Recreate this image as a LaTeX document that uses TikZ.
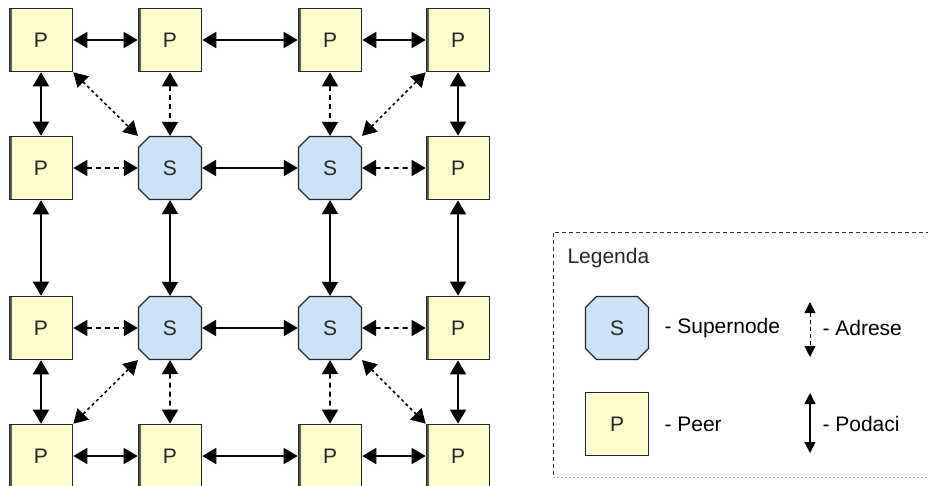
\documentclass[tikz,border=0pt]{standalone}
\usepackage{fontspec}
\setmainfont{Liberation Sans}
\usepackage{tikz}
\usetikzlibrary{arrows.meta,shapes.misc}
\definecolor{peerfill}{RGB}{252,252,204}
\definecolor{superfill}{RGB}{204,226,248}
\definecolor{txt}{RGB}{40,40,40}

\begin{document}
\begin{tikzpicture}[x=1pt,y=-1pt,font=\fontsize{21}{24}\selectfont,
    >={Triangle[length=14pt,width=16pt]}]
            \tikzstyle{peer}=[rectangle, draw=black!85, line width=1.6pt,
            fill=peerfill, minimum size=63pt, inner sep=0pt, text=txt,
            path picture={\draw[black!65, line width=4pt]
              (path picture bounding box.south west) -- (path picture bounding box.north west);}]
            \tikzstyle{super}=[chamfered rectangle, chamfered rectangle xsep=8pt,
            draw=black!85, line width=1.2pt, fill=superfill,
            minimum size=63pt, inner sep=0pt, text=txt]
            \tikzstyle{data}=[<->, line width=1.6pt]
            \tikzstyle{addr}=[<->, line width=1.6pt, dash pattern=on 5pt off 4pt]
            \tikzstyle{diag}=[<->, line width=1.6pt, dash pattern=on 3pt off 3pt]
            \useasboundingbox (0,0) rectangle (928,485);
            \clip (0,0) rectangle (928,485);
            % peers and supernodes
            \node[peer] (p11) at (41,40) {P};
            \node[peer] (p12) at (170,40) {P};
            \node[peer] (p13) at (330,40) {P};
            \node[peer] (p14) at (458,40) {P};
            \node[peer] (p21) at (41,168) {P};
            \node[super] (s22) at (170,168) {S};
            \node[super] (s23) at (330,168) {S};
            \node[peer] (p24) at (458,168) {P};
            \node[peer] (p31) at (41,328) {P};
            \node[super] (s32) at (170,328) {S};
            \node[super] (s33) at (330,328) {S};
            \node[peer] (p34) at (458,328) {P};
            \node[peer] (p41) at (41,456) {P};
            \node[peer] (p42) at (170,456) {P};
            \node[peer] (p43) at (330,456) {P};
            \node[peer] (p44) at (458,456) {P};
            % rows
            \path
            (p11) edge [data] (p12)
            (p12) edge [data] (p13)
            (p13) edge [data] (p14)
            (p21) edge [addr] (s22)
            (s22) edge [data] (s23)
            (s23) edge [addr] (p24)
            (p31) edge [addr] (s32)
            (s32) edge [data] (s33)
            (s33) edge [addr] (p34)
            (p41) edge [data] (p42)
            (p42) edge [data] (p43)
            (p43) edge [data] (p44);
            % columns
            \path
            (p11) edge [data] (p21)
            (p21) edge [data] (p31)
            (p31) edge [data] (p41)
            (p14) edge [data] (p24)
            (p24) edge [data] (p34)
            (p34) edge [data] (p44)
            (p12) edge [addr] (s22)
            (s22) edge [data] (s32)
            (s32) edge [addr] (p42)
            (p13) edge [addr] (s23)
            (s23) edge [data] (s33)
            (s33) edge [addr] (p43);
            % diagonals
            \path
            (p11.south east) edge [diag] (s22.north -| s22.west)
            (p14.south west) edge [diag] (s23.north -| s23.east)
            (s32.south -| s32.west) edge [diag] (p41.north east)
            (s33.south -| s33.east) edge [diag] (p44.north west);
            % legend
            \draw[black!80, line width=0.8pt, dash pattern=on 4pt off 3pt]
            (930,232) -- (553,232) -- (553,477);
            \draw[black!30, line width=0.8pt, dash pattern=on 2pt off 2pt]
            (553,477) -- (930,477);
            \node[anchor=west, text=txt] (leg) at (564,258) {Legenda};
            \node[super] (ls) at (617,328) {S};
            \node[peer, path picture={}] (lp) at (617,424) {P};
            \node[anchor=west, text=black] (lst) at (661,328) {- Supernode};
            \node[anchor=west, text=black] (lpt) at (661,424) {- Peer};
            \coordinate (a1) at (810,302);
            \coordinate (a2) at (810,357);
            \coordinate (d1) at (810,393);
            \coordinate (d2) at (810,453);
            \path
            (a1) edge [<->, line width=0.9pt, dash pattern=on 4pt off 3pt,
              >={Triangle[length=11pt,width=11pt]}] (a2)
            (d1) edge [<->, line width=1.4pt,
              >={Triangle[length=11pt,width=11pt]}] (d2);
            \node[anchor=west, text=black] (at) at (819,328) {- Adrese};
            \node[anchor=west, text=black] (dt) at (819,424) {- Podaci};
        \end{tikzpicture}
\end{document}
